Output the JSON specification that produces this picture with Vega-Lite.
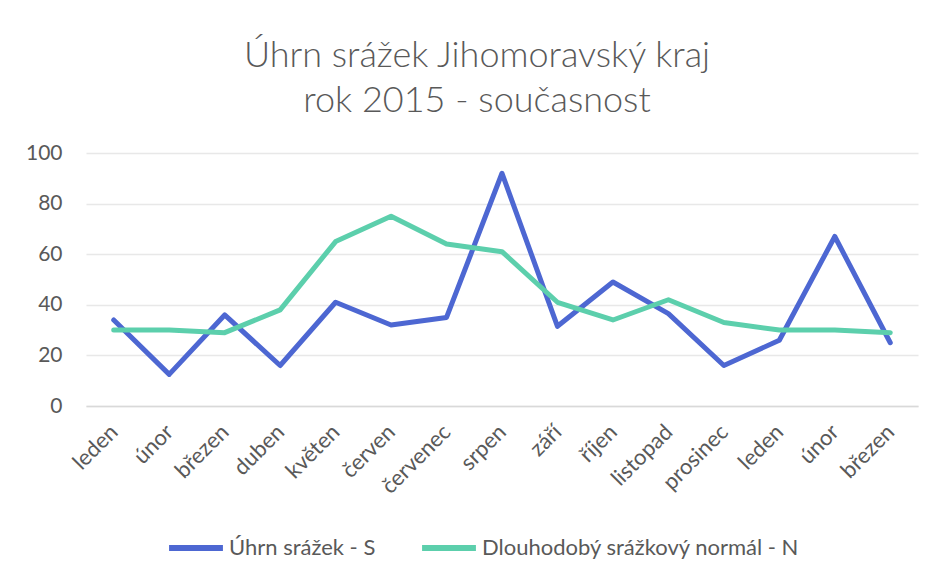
{
  "$schema": "https://vega.github.io/schema/vega-lite/v6.json",
  "width": 832,
  "height": 253,
  "autosize": {"type": "none"},
  "padding": {"left": 86, "top": 153, "right": 18, "bottom": 170},
  "background": "white",
  "title": {
    "text": ["Úhrn srážek Jihomoravský kraj", "rok 2015 - současnost"],
    "font": "Lato",
    "fontSize": 36,
    "fontWeight": 300,
    "color": "#595959",
    "lineHeight": 45,
    "anchor": "middle",
    "dx": -25,
    "offset": 22
  },
  "data": {
    "values": [
      {"i": 0, "mesic": "leden", "serie": "Úhrn srážek - S", "hodnota": 34},
      {"i": 1, "mesic": "únor", "serie": "Úhrn srážek - S", "hodnota": 12.5},
      {"i": 2, "mesic": "březen", "serie": "Úhrn srážek - S", "hodnota": 36},
      {"i": 3, "mesic": "duben", "serie": "Úhrn srážek - S", "hodnota": 16},
      {"i": 4, "mesic": "květen", "serie": "Úhrn srážek - S", "hodnota": 41},
      {"i": 5, "mesic": "červen", "serie": "Úhrn srážek - S", "hodnota": 32},
      {"i": 6, "mesic": "červenec", "serie": "Úhrn srážek - S", "hodnota": 35},
      {"i": 7, "mesic": "srpen", "serie": "Úhrn srážek - S", "hodnota": 92},
      {"i": 8, "mesic": "září", "serie": "Úhrn srážek - S", "hodnota": 31.5},
      {"i": 9, "mesic": "říjen", "serie": "Úhrn srážek - S", "hodnota": 49},
      {"i": 10, "mesic": "listopad", "serie": "Úhrn srážek - S", "hodnota": 36.5},
      {"i": 11, "mesic": "prosinec", "serie": "Úhrn srážek - S", "hodnota": 16},
      {"i": 12, "mesic": "leden", "serie": "Úhrn srážek - S", "hodnota": 26},
      {"i": 13, "mesic": "únor", "serie": "Úhrn srážek - S", "hodnota": 67},
      {"i": 14, "mesic": "březen", "serie": "Úhrn srážek - S", "hodnota": 25},
      {"i": 0, "mesic": "leden", "serie": "Dlouhodobý srážkový normál - N", "hodnota": 30},
      {"i": 1, "mesic": "únor", "serie": "Dlouhodobý srážkový normál - N", "hodnota": 30},
      {"i": 2, "mesic": "březen", "serie": "Dlouhodobý srážkový normál - N", "hodnota": 29},
      {"i": 3, "mesic": "duben", "serie": "Dlouhodobý srážkový normál - N", "hodnota": 38},
      {"i": 4, "mesic": "květen", "serie": "Dlouhodobý srážkový normál - N", "hodnota": 65},
      {"i": 5, "mesic": "červen", "serie": "Dlouhodobý srážkový normál - N", "hodnota": 75},
      {"i": 6, "mesic": "červenec", "serie": "Dlouhodobý srážkový normál - N", "hodnota": 64},
      {"i": 7, "mesic": "srpen", "serie": "Dlouhodobý srážkový normál - N", "hodnota": 61},
      {"i": 8, "mesic": "září", "serie": "Dlouhodobý srážkový normál - N", "hodnota": 41},
      {"i": 9, "mesic": "říjen", "serie": "Dlouhodobý srážkový normál - N", "hodnota": 34},
      {"i": 10, "mesic": "listopad", "serie": "Dlouhodobý srážkový normál - N", "hodnota": 42},
      {"i": 11, "mesic": "prosinec", "serie": "Dlouhodobý srážkový normál - N", "hodnota": 33},
      {"i": 12, "mesic": "leden", "serie": "Dlouhodobý srážkový normál - N", "hodnota": 30},
      {"i": 13, "mesic": "únor", "serie": "Dlouhodobý srážkový normál - N", "hodnota": 30},
      {"i": 14, "mesic": "březen", "serie": "Dlouhodobý srážkový normál - N", "hodnota": 29}
    ]
  },
  "mark": {"type": "line", "strokeWidth": 5, "strokeCap": "round", "strokeJoin": "round"},
  "encoding": {
    "x": {
      "field": "i",
      "type": "ordinal",
      "title": null,
      "axis": {
        "labelExpr": "['leden','únor','březen','duben','květen','červen','červenec','srpen','září','říjen','listopad','prosinec','leden','únor','březen'][datum.value]",
        "labelAngle": -45,
        "labelAlign": "right",
        "labelBaseline": "middle",
        "labelPadding": 22,
        "ticks": false,
        "domain": true,
        "domainColor": "#d9d9d9",
        "domainWidth": 1.5,
        "grid": false,
        "labelFont": "Lato",
        "labelFontSize": 22,
        "labelColor": "#595959",
        "labelOverlap": false
      }
    },
    "y": {
      "field": "hodnota",
      "type": "quantitative",
      "title": null,
      "scale": {"domain": [0, 100], "nice": false},
      "axis": {
        "values": [0, 20, 40, 60, 80, 100],
        "domain": false,
        "ticks": false,
        "grid": true,
        "gridColor": "#e8e8e8",
        "gridWidth": 1.5,
        "labelFont": "Lato",
        "labelFontSize": 21,
        "labelColor": "#595959",
        "labelPadding": 24
      }
    },
    "color": {
      "field": "serie",
      "type": "nominal",
      "scale": {
        "domain": ["Úhrn srážek - S", "Dlouhodobý srážkový normál - N"],
        "range": ["#4d67d2", "#5ccfac"]
      },
      "legend": {
        "title": null,
        "orient": "none",
        "direction": "horizontal",
        "legendX": 80,
        "legendY": 365,
        "symbolType": "stroke",
        "symbolSize": 2900,
        "symbolStrokeWidth": 6,
        "labelFont": "Lato",
        "labelFontSize": 22,
        "labelColor": "#595959",
        "labelOffset": 3,
        "columnPadding": 34,
        "labelLimit": 500
      }
    }
  },
  "config": {"view": {"stroke": null}}
}
